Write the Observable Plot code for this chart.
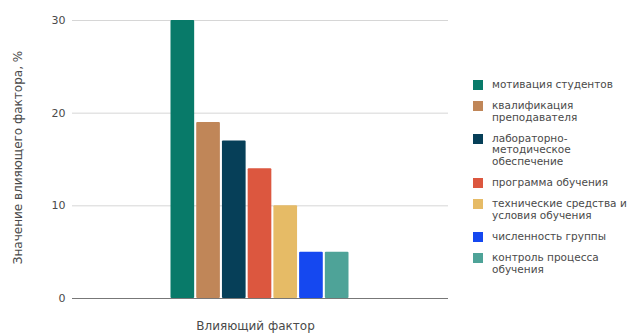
<!DOCTYPE html>
<html>
<head>
<meta charset="utf-8">
<script src="https://cdn.jsdelivr.net/npm/d3@7"></script>
<script src="https://cdn.jsdelivr.net/npm/@observablehq/plot@0.6"></script>
<style>
  html, body { margin: 0; padding: 0; background: #fff; }
  #chart { position: relative; width: 631px; height: 333px; overflow: hidden; font-family: "DejaVu Sans", sans-serif; }
  #legend { position: absolute; left: 473px; top: 79px; font-size: 10.5px; color: #4a4a4a; }
  .item { display: flex; align-items: flex-start; margin-bottom: 9.5px; }
  .sw { width: 10px; height: 10px; flex: none; margin-top: 1px; margin-right: 9px; }
  .lbl { line-height: 11.6px; max-width: 140px; }
</style>
</head>
<body>
<div id="chart"></div>
<script>
// Влияющие факторы и их значения, %
const factors = [
  "мотивация студентов",
  "квалификация преподавателя",
  "лабораторно-методическое обеспечение",
  "программа обучения",
  "технические средства и условия обучения",
  "численность группы",
  "контроль процесса обучения"
];
const values = [30, 19, 17, 14, 10, 5, 5];
const yTicks = [0, 10, 20, 30];
const palette = ["#087a69", "#c08658", "#063f58", "#dc573f", "#e6bb66", "#1548f0", "#4ea398"];

const data = factors.map((f, i) => ({factor: f, value: values[i]}));

const plot = Plot.plot({
  width: 631,
  height: 333,
  marginTop: 20,
  marginBottom: 35,
  marginLeft: 72,
  marginRight: 183,
  style: {fontFamily: "DejaVu Sans, sans-serif", fontSize: "11px", color: "#4a4a4a"},
  x: {type: "band", domain: factors, range: [170.5, 348.5], paddingInner: 0.08, paddingOuter: 0, round: false, axis: null},
  y: {domain: [0, 30], ticks: yTicks, label: null, tickSize: 0, tickPadding: 7},
  color: {domain: factors, range: palette},
  marks: [
    Plot.gridY(yTicks, {stroke: "#d6d6d6", strokeOpacity: 1}),
    Plot.barY(data, {x: "factor", y: "value", fill: "factor", rx: 1}),
    Plot.ruleY([0], {stroke: "#777", strokeWidth: 1.2}),
    Plot.text(["Значение влияющего фактора, %"], {frameAnchor: "left", textAnchor: "middle", dx: -54, dy: -2, rotate: -90, fontSize: 12, fill: "#4a4a4a"}),
    Plot.text(["Влияющий фактор"], {frameAnchor: "bottom", dx: -5, dy: 31, fontSize: 12, fill: "#4a4a4a"})
  ]
});

const chart = document.getElementById("chart");
chart.appendChild(plot);

const legend = document.createElement("div");
legend.id = "legend";
factors.forEach((f, i) => {
  const item = document.createElement("div");
  item.className = "item";
  const sw = document.createElement("span");
  sw.className = "sw";
  sw.style.background = palette[i];
  const lbl = document.createElement("span");
  lbl.className = "lbl";
  lbl.textContent = f;
  item.appendChild(sw);
  item.appendChild(lbl);
  legend.appendChild(item);
});
chart.appendChild(legend);
</script>
</body>
</html>
